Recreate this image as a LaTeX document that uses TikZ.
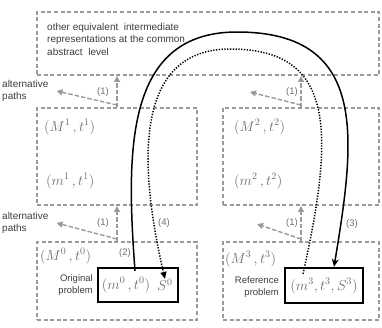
\documentclass[tikz,border=0pt]{standalone}
\usepackage[no-math]{fontspec}
\newfontfamily\arialf{Liberation Sans}
\usetikzlibrary{arrows.meta}
\definecolor{boxgray}{HTML}{9A9A9A}
\definecolor{labgray}{HTML}{6E6E6E}
\definecolor{txtgray}{HTML}{3C3C3C}
\begin{document}
\begin{tikzpicture}[x=1pt,y=-1pt,
  region/.style={draw=boxgray, line width=1.9pt, dash pattern=on 4pt off 2.6pt, inner sep=0pt},
  probbox/.style={draw=black, line width=2.3pt, inner sep=0pt},
  plaintxt/.style={font=\arialf\fontsize{10}{12.5}\selectfont, text=txtgray, inner sep=0pt},
  probtxt/.style={font=\arialf\fontsize{9.5}{12}\selectfont, text=txtgray, inner sep=0pt},
  steplab/.style={font=\arialf\fontsize{9.5}{10}\selectfont, text=labgray, inner sep=0pt},
  mathlab/.style={font=\fontsize{14}{16}\selectfont, text=black!58, inner sep=0pt},
  uparr/.style={draw=boxgray, line width=1.4pt, dash pattern=on 4.5pt off 2pt, -{Triangle[length=6pt,width=6pt]}},
  solidarc/.style={draw=black, line width=1.5pt, -{Stealth[length=8pt,width=7pt]}},
  dotarc/.style={draw=black, line width=1.5pt, dash pattern=on 1.3pt off 1.5pt, -{Triangle[length=7pt,width=6pt]}}
]
\useasboundingbox (0,0) rectangle (382,327);
% regions
\node[region, minimum width=342pt, minimum height=63pt] (top) at (208,43.5) {};
\node[region, minimum width=160pt, minimum height=97pt] (ml) at (117,156.5) {};
\node[region, minimum width=156pt, minimum height=97pt] (mr) at (301,156.5) {};
\node[region, minimum width=160pt, minimum height=78pt] (bl) at (117,281) {};
\node[region, minimum width=156pt, minimum height=78pt] (br) at (301,281) {};
\node[probbox, minimum width=80pt, minimum height=34pt] (ob) at (138,285) {};
\node[probbox, minimum width=78pt, minimum height=35pt] (rb) at (324,285.5) {};
% texts
\node[plaintxt, align=left, anchor=north west] (toptxt) at (47,23) {other equivalent\ \ intermediate\\representations at the common\\abstract\ \ level};
\node[plaintxt, align=left, anchor=west] (alt1) at (2,91) {alternative\\paths};
\node[plaintxt, align=left, anchor=west] (alt2) at (2,223) {alternative\\paths};
\node[probtxt, align=right, anchor=east] (orig) at (93,285) {Original\\problem};
\node[probtxt, align=right, anchor=east] (refp) at (279,287) {Reference\\problem};
% math labels
\node[mathlab, anchor=west] (M1) at (44,127) {$\bigl(M^{1}\,,t^{1}\bigr)$};
\node[mathlab, anchor=west] (m1) at (46,181) {$\bigl(m^{1}\,,t^{1}\bigr)$};
\node[mathlab, anchor=west] (M2) at (234,127) {$\bigl(M^{2}\,,t^{2}\bigr)$};
\node[mathlab, anchor=west] (m2) at (234,181) {$\bigl(m^{2}\,,t^{2}\bigr)$};
\node[mathlab, anchor=west] (M0) at (40,256) {$\bigl(M^{0}\,,t^{0}\bigr)$};
\node[mathlab, anchor=west] (M3) at (225,259) {$\bigl(M^{3}\,,t^{3}\bigr)$};
\node[mathlab] (m0) at (126,285) {$\bigl(m^{0}\,,t^{0}\bigr)$};
\node[mathlab] (s0) at (165,285) {$S^{0}$};
\node[mathlab] (m3) at (324,286) {$\bigl(m^{3},t^{3},S^{3}\bigr)$};
% step arrows (1)
\coordinate (v1) at (117,0);
\coordinate (v2) at (301,0);
\coordinate (a2) at (250,92);
\coordinate (a4) at (257,224);
\draw[uparr] (ml.north -| v1) -- (top.south -| v1);
\draw[uparr] (mr.north -| v2) -- (top.south -| v2);
\draw[uparr] (bl.north -| v1) -- (ml.south -| v1);
\draw[uparr] (br.north -| v2) -- (mr.south -| v2);
\draw[uparr] ([yshift=2pt]ml.north -| v1) -- ([xshift=8pt]alt1.east);
\draw[uparr] ([yshift=2pt]mr.north -| v2) -- (a2);
\draw[uparr] ([yshift=2pt]bl.north -| v1) -- ([xshift=8pt]alt2.east);
\draw[uparr] ([yshift=2pt]br.north -| v2) -- (a4);
\node[steplab] (l1a) at (103,92) {(1)};
\node[steplab] (l1b) at (292,92) {(1)};
\node[steplab] (l1c) at (103,223) {(1)};
\node[steplab] (l1d) at (292,223) {(1)};
\node[steplab] (l2) at (125,253) {(2)};
\node[steplab] (l3) at (352,224) {(3)};
\node[steplab] (l4) at (164,223) {(4)};
% big arcs
\coordinate (stop) at (237,32);
\coordinate (dtop) at (230,49);
\draw[solidarc] ([xshift=-3pt,yshift=-4pt]ob.north) .. controls (126,150) and (125,32) .. (stop) .. controls (370,32) and (355,140) .. ([xshift=10pt]rb.north);
\draw[dotarc] ([xshift=-21pt,yshift=-7pt]rb.north) .. controls (335,130) and (335,49) .. (dtop) .. controls (140,49) and (135,150) .. (s0.north);
\end{tikzpicture}
\end{document}
